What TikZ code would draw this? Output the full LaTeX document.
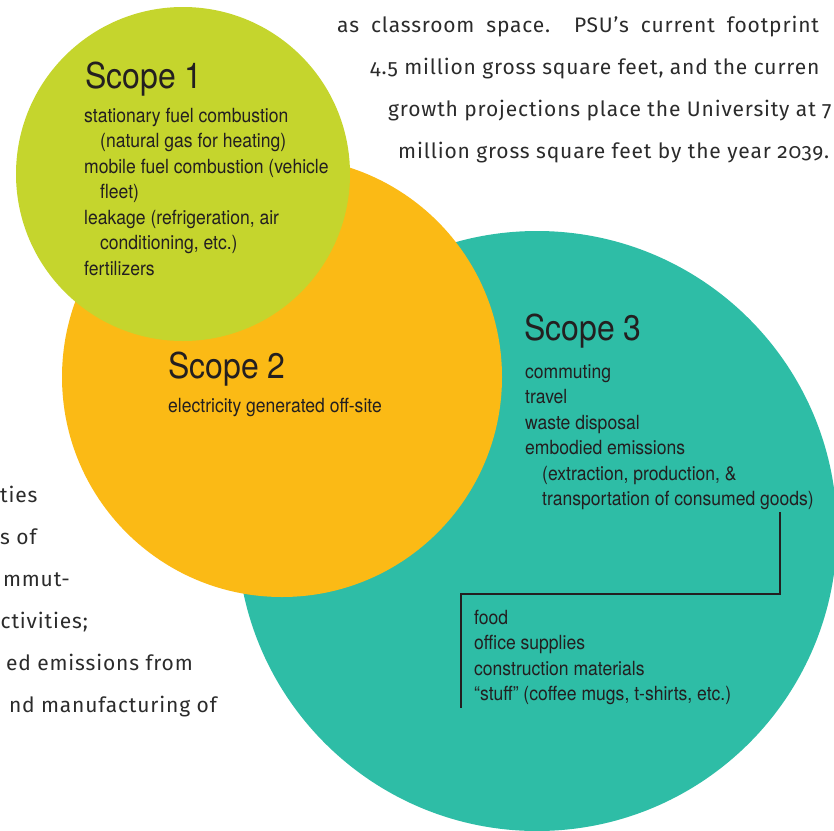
\documentclass[tikz,border=0pt]{standalone}
\usepackage{fontspec}
\newfontfamily\condfont[FakeStretch=0.9]{TeX Gyre Heros}
\newfontfamily\parafont[Numbers=OldStyle,LetterSpace=4]{Fira Sans}
\definecolor{scgreen}{HTML}{C5D52D}
\definecolor{scorange}{HTML}{FBBA15}
\definecolor{scteal}{HTML}{2EBDA6}
\definecolor{ink}{HTML}{231F20}
\definecolor{paraink}{HTML}{2B2B2B}
\tikzset{
  scopecircle/.style={circle, inner sep=0pt, draw=none},
  scopehead/.style={anchor=base west, inner sep=0pt, text=ink, font=\condfont\fontsize{35.5}{40}\selectfont},
  scopebody/.style={anchor=base west, inner sep=0pt, text=ink, align=left, font=\condfont\fontsize{19.5}{25.5}\selectfont},
  paraline/.style={anchor=base west, inner sep=0pt, text=paraink, font=\parafont\fontsize{21}{24}\selectfont},
  pararight/.style={anchor=base east, inner sep=0pt, text=paraink, font=\parafont\fontsize{21}{24}\selectfont},
  bracketline/.style={draw=ink, line width=2pt}
}
\begin{document}
\begin{tikzpicture}[x=1pt,y=-1pt]
\useasboundingbox (0,0) rectangle (834,830);
\clip (0,0) rectangle (834,830);
% circles
\node[scopecircle, fill=scteal, minimum size=600pt] (c3) at (537,531) {};
\node[scopecircle, fill=scorange, minimum size=440pt] (c2) at (282,377) {};
\node[scopecircle, fill=scgreen, minimum size=334pt] (c1) at (183,174) {};
% Scope 1
\node[scopehead] (h1) at (85,88) {Scope 1};
\node[scopebody] (b1a) at (84,122) {stationary fuel combustion};
\node[scopebody] (b1b) at (100,147.5) {(natural gas for heating)};
\node[scopebody] (b1c) at (84,173) {mobile fuel combustion (vehicle};
\node[scopebody] (b1d) at (100,198.5) {fleet)};
\node[scopebody] (b1e) at (84,224) {leakage (refrigeration, air};
\node[scopebody] (b1f) at (100,249.5) {conditioning, etc.)};
\node[scopebody] (b1g) at (84,275) {fertilizers};
% Scope 2
\node[scopehead] (h2) at (168,378) {Scope 2};
\node[scopebody] (b2) at (168,412) {electricity generated off-site};
% Scope 3
\node[scopehead] (h3) at (524,340) {Scope 3};
\node[scopebody] (b3a) at (525,378) {commuting};
\node[scopebody] (b3b) at (525,403.5) {travel};
\node[scopebody] (b3c) at (525,429) {waste disposal};
\node[scopebody] (b3d) at (525,454.5) {embodied emissions};
\node[scopebody] (b3e) at (542,480) {(extraction, production, \&};
\node[scopebody] (b3f) at (542,505.5) {transportation of consumed goods)};
\node[scopebody] (g1) at (474,624) {food};
\node[scopebody] (g2) at (474,649.5) {office supplies};
\node[scopebody] (g3) at (474,675) {construction materials};
\node[scopebody] (g4) at (474,700.5) {“stuff” (coffee mugs, t-shirts, etc.)};
% bracket
\coordinate (k0) at (780,512);
\coordinate (k1) at (780,594);
\coordinate (k2) at (461,594);
\coordinate (k3) at (461,708);
\draw[bracketline] (k0) -- (k1) -- (k2) -- (k3);
% surrounding paragraph text
\node[paraline] (p1) at (337,32) {as\hspace{12pt}classroom\hspace{12pt}space.\hspace{24pt}PSU’s\hspace{12pt}current\hspace{12pt}footprint};
\node[paraline] (p2) at (370,74) {4.5 million gross square feet, and the curren};
\node[paraline] (p3) at (388,116) {growth projections place the University at 7};
\node[paraline] (p4) at (398,158) {million gross square feet by the year 2039.};
\node[paraline] (q1) at (0,502) {ties};
\node[paraline] (q2) at (0,544) {s of};
\node[pararight] (q3) at (70,586) {mmut-};
\node[pararight] (q4) at (88,628) {activities;};
\node[pararight] (q5) at (193,670) {ed emissions from};
\node[pararight] (q6) at (217,712) {nd manufacturing of};
\end{tikzpicture}
\end{document}
